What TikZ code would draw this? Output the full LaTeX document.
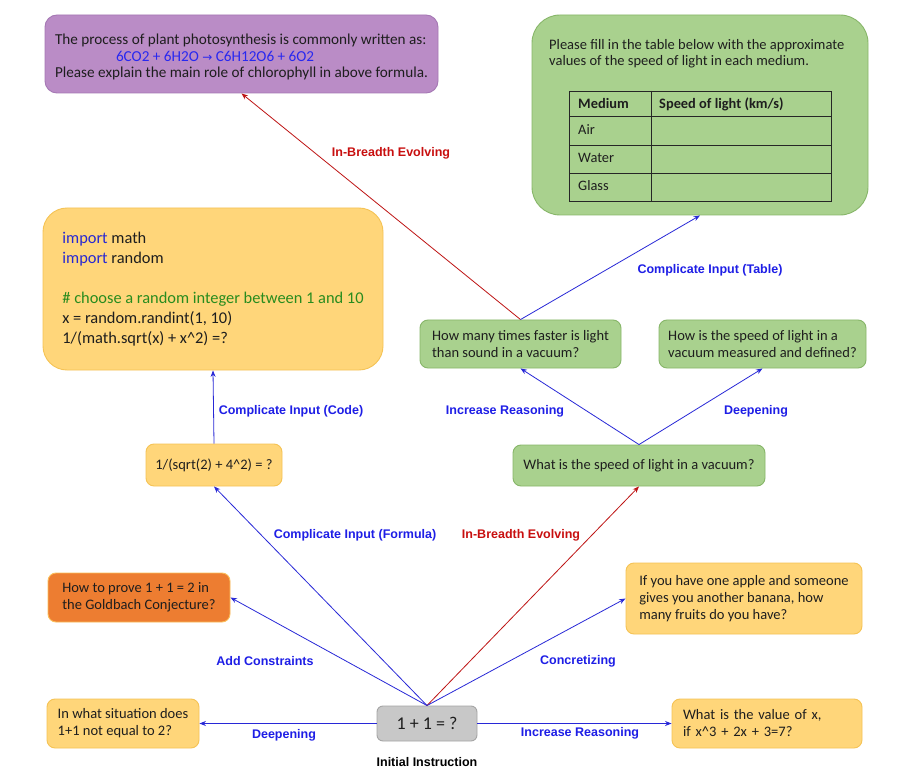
\documentclass[tikz,border=0pt]{standalone}
\usepackage{fontspec}
\setmainfont{Carlito}
\newfontfamily\labfont{Liberation Sans}
\newfontfamily\symfont{DejaVu Sans}
\usetikzlibrary{arrows.meta}
\definecolor{purplef}{RGB}{186,140,198}
\definecolor{purpled}{RGB}{165,120,180}
\definecolor{greenf}{RGB}{169,209,142}
\definecolor{greend}{RGB}{135,182,105}
\definecolor{yellowf}{RGB}{255,214,122}
\definecolor{yellowd}{RGB}{245,195,85}
\definecolor{orangef}{RGB}{237,125,49}
\definecolor{oranged}{RGB}{250,190,90}
\definecolor{grayf}{RGB}{200,200,200}
\definecolor{grayd}{RGB}{165,165,165}
\definecolor{arrblue}{RGB}{40,40,215}
\definecolor{labblue}{RGB}{30,30,230}
\definecolor{arrred}{RGB}{190,20,20}
\definecolor{labred}{RGB}{200,15,15}
\definecolor{codeblue}{RGB}{40,40,210}
\definecolor{codegreen}{RGB}{40,140,30}
\definecolor{formblue}{RGB}{40,40,240}
\definecolor{txt}{RGB}{30,30,30}
\begin{document}
\begin{tikzpicture}[x=1pt,y=-1pt,
  box/.style={draw, line width=0.9pt, rounded corners=8pt, inner sep=0pt,
    align=left, text=txt, font=\fontsize{14.5}{17}\selectfont},
  gbox/.style={box, fill=greenf, draw=greend},
  ybox/.style={box, fill=yellowf, draw=yellowd},
  lab/.style={font=\labfont\bfseries\fontsize{12.5}{14}\selectfont, text=labblue, inner sep=0pt},
  labR/.style={lab, text=labred},
  arr/.style={-{Stealth[length=6.5pt,width=5pt]}, line width=0.8pt, draw=arrblue},
  arrR/.style={arr, draw=arrred},
  cell/.style={anchor=west, inner sep=0pt, text=txt, font=\fontsize{14.4}{16}\selectfont}
]
\fill[white] (0,0) rectangle (911,770);
\useasboundingbox (0,0) rectangle (911,770);

% top purple box
\node[box, fill=purplef, draw=purpled, rounded corners=12pt,
  minimum width=393pt, minimum height=78pt, font=\fontsize{15.2}{16.5}\selectfont]
  (purple) at (241.5,54) {\rule{0pt}{17pt}The process of plant photosynthesis is commonly written as:\\
  \hspace*{61pt}\textcolor{formblue}{6CO2 + 6H2O {\symfont\fontsize{12}{16.5}\selectfont →} C6H12O6 + 6O2}\\
  Please explain the main role of chlorophyll in above formula.};

% table box
\node[box, fill=greenf, draw=greend, rounded corners=28pt,
  minimum width=336pt, minimum height=200pt] (tbl) at (700,115) {};
\node[anchor=north west, inner sep=0pt, align=left, text=txt,
  font=\fontsize{14.5}{16.5}\selectfont] (tbltext) at (549,39)
  {Please fill in the table below with the approximate\\values of the speed of light in each medium.};
\draw[line width=0.9pt, draw=black!85] (569,91) rectangle (831,201);
\draw[line width=0.9pt, draw=black!85] (569,116) -- (831,116) (569,145) -- (831,145)
  (569,173) -- (831,173) (651,91) -- (651,201);
\node[cell] (cmed) at (578,104) {\bfseries Medium};
\node[cell] (cspd) at (659,104) {\bfseries Speed of light (km/s)};
\node[cell] (cair) at (578,130) {Air};
\node[cell] (cwat) at (578,158) {Water};
\node[cell] (cgla) at (578,186) {Glass};

% code box
\node[ybox, rounded corners=24pt, minimum width=340pt, minimum height=162pt,
  font=\fontsize{16.4}{20}\selectfont] (code) at (213,289)
  {\textcolor{codeblue}{import} math\\
   \textcolor{codeblue}{import} random\\[20pt]
   \textcolor{codegreen}{\# choose a random integer between 1 and 10}\\
   x = random.randint(1, 10)\\
   1/(math.sqrt(x) + x\^{}2) =?};

% middle nodes
\node[ybox, minimum width=136pt, minimum height=42pt] (sqrt) at (214,465)
  {1/(sqrt(2) + 4\^{}2) = ?};
\node[gbox, minimum width=201pt, minimum height=48pt] (hm) at (520.5,344)
  {How many times faster is light\\than sound in a vacuum?};
\node[gbox, minimum width=207pt, minimum height=48pt] (hi) at (762.5,344)
  {How is the speed of light in a\\vacuum measured and defined?};
\node[gbox, minimum width=252pt, minimum height=41pt] (ws) at (639,465.5)
  {What is the speed of light in a vacuum?};

% lower nodes
\node[box, fill=orangef, draw=oranged, minimum width=182pt, minimum height=49pt]
  (gold) at (139,597.5) {How to prove 1 + 1 = 2 in\\the Goldbach Conjecture?};
\node[ybox, minimum width=236pt, minimum height=71pt] (apple) at (744,598.5)
  {If you have one apple and someone\\gives you another banana, how\\many fruits do you have?};
\node[ybox, minimum width=152pt, minimum height=49pt] (sit) at (123,723.5)
  {In what situation does\\1+1 not equal to 2?};
\node[box, fill=grayf, draw=grayd, rounded corners=6pt, align=center,
  minimum width=100pt, minimum height=35pt, font=\fontsize{18}{20}\selectfont]
  (init) at (427,723.5) {1 + 1 = ?};
\node[ybox, inner xsep=11pt, text width=168pt, minimum height=49pt] (val) at (767,723.5)
  {What is the value of x,\\if x\^{}3 + 2x + 3=7?};

% arrows
\draw[arr] (init.north) -- (sqrt.south);
\draw[arr] (init.north) -- (gold.east);
\draw[arrR] (init.north) -- (ws.south);
\draw[arr] (init.north) -- (apple.west);
\draw[arr] (init.west) -- (sit.east);
\draw[arr] (init.east) -- (val.west);
\draw[arr] (sqrt.north) -- (code.south);
\draw[arr] (ws.north) -- (hm.south);
\draw[arr] (ws.north) -- (hi.south);
\draw[arrR] (hm.north) -- (purple.south);
\draw[arr] (hm.north) -- (tbl.south);

% labels
\node[lab, text=black] (linit) at (427,762) {Initial Instruction};
\node[lab] (l1) at (284,735) {Deepening};
\node[lab] (l2) at (580,733) {Increase Reasoning};
\node[lab] (l3) at (265,661) {Add Constraints};
\node[lab] (l4) at (578,661) {Concretizing};
\node[lab] (l5) at (355,535) {Complicate Input (Formula)};
\node[labR] (l6) at (521,535) {In-Breadth Evolving};
\node[lab] (l7) at (291,411) {Complicate Input (Code)};
\node[lab] (l8) at (505,411) {Increase Reasoning};
\node[lab] (l9) at (756,411) {Deepening};
\node[lab] (l10) at (710,270) {Complicate Input (Table)};
\node[labR] (l11) at (391,153) {In-Breadth Evolving};
\end{tikzpicture}
\end{document}
